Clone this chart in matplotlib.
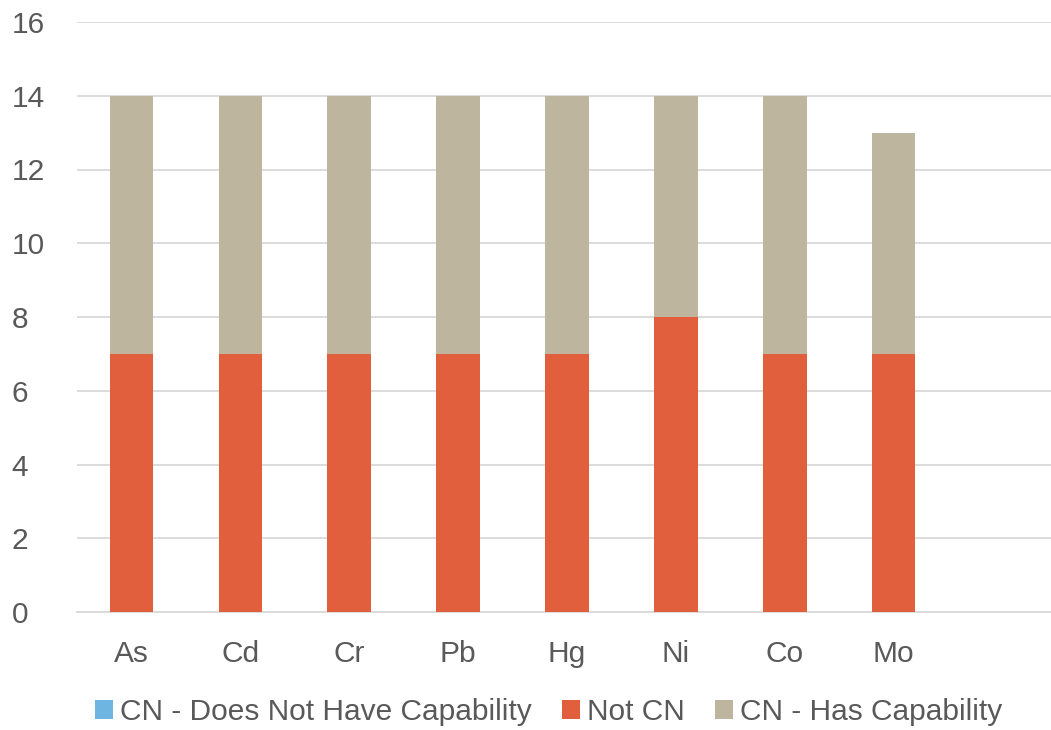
import numpy as np
from matplotlib import pyplot as plt

categories = ['As', 'Cd', 'Cr', 'Pb', 'Hg', 'Ni', 'Co', 'Mo']
does_not_have = [0, 0, 0, 0, 0, 0, 0, 0]
not_cn = [7, 7, 7, 7, 7, 8, 7, 7]
has_capability = [7, 7, 7, 7, 7, 6, 7, 6]

grey = '#595959'
plt.rcParams['font.family'] = ['Liberation Sans', 'DejaVu Sans']

fig = plt.figure(figsize=(10.51, 7.30), dpi=100)
ax = fig.add_axes([77 / 1051, 1 - 612 / 730, 980 / 1051, 590 / 730])

x = np.arange(len(categories))
w = 0.4
b1 = ax.bar(x, does_not_have, w, color='#6FB5E1', label='CN - Does Not Have Capability', zorder=3)
b2 = ax.bar(x, not_cn, w, bottom=does_not_have, color='#E15F3C', label='Not CN', zorder=3)
bottom2 = np.array(does_not_have) + np.array(not_cn)
b3 = ax.bar(x, has_capability, w, bottom=bottom2, color='#BDB59D', label='CN - Has Capability', zorder=3)

ax.set_xlim(-0.5, 8.5)
ax.set_ylim(0, 16)
ax.set_yticks(range(0, 17, 2))
ax.set_xticks(x)
ax.set_xticklabels(categories)
ax.yaxis.grid(True, color='#D9D9D9', linewidth=1.3, zorder=0)
for s in ['top', 'right', 'left']:
    ax.spines[s].set_visible(False)
ax.spines['bottom'].set_color('#D9D9D9')
ax.spines['bottom'].set_linewidth(1.3)
ax.tick_params(axis='both', length=0, labelsize=21.5, labelcolor=grey)
ax.tick_params(axis='x', pad=20)
ax.tick_params(axis='y', pad=47)
for lab in ax.get_yticklabels():
    lab.set_horizontalalignment('left')

leg = fig.legend(handles=[b1, b2, b3], loc='center', bbox_to_anchor=(0.522, 1 - 712 / 730),
                 ncol=3, frameon=False, fontsize=21.5, handlelength=0.6, handleheight=0.6,
                 handletextpad=0.25, columnspacing=1.0, labelcolor=grey)

fig.savefig('out.png', dpi=100)
